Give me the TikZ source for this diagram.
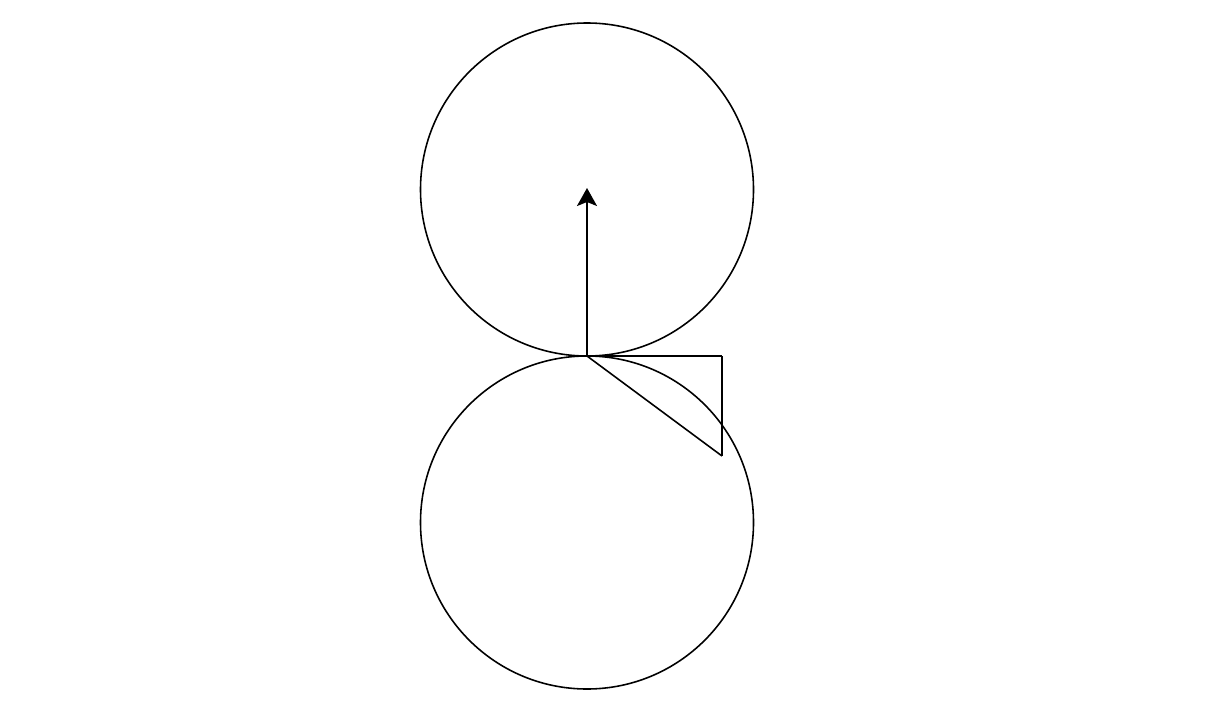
\documentclass[tikz,border=0pt]{standalone}
\usetikzlibrary{arrows.meta}

\begin{document}
\begin{tikzpicture}[ring/.style = {draw, circle, line width=0.45pt, minimum size=3.33cm, inner sep=0pt}]

\useasboundingbox (0, 0) rectangle (12.15, 7.18);

\node[ring] (U) at (5.87, 5.285) {};
\node[ring] (L) at (5.87, 1.955) {};

\coordinate (T) at (5.87, 3.62);
\coordinate (P) at (5.87, 5.30);
\coordinate (R1) at (7.22, 3.62);
\coordinate (R2) at (7.22, 2.62);

\draw[line width=0.6pt, -{Stealth[length=1.8mm, width=2mm, inset=0.4mm]}] (T) -- (P);

\draw[line width=0.45pt] (T) -- (R1);
\draw[line width=0.45pt] (R1) -- (R2);
\draw[line width=0.45pt] (R2) -- (T);

\end{tikzpicture}
\end{document}
